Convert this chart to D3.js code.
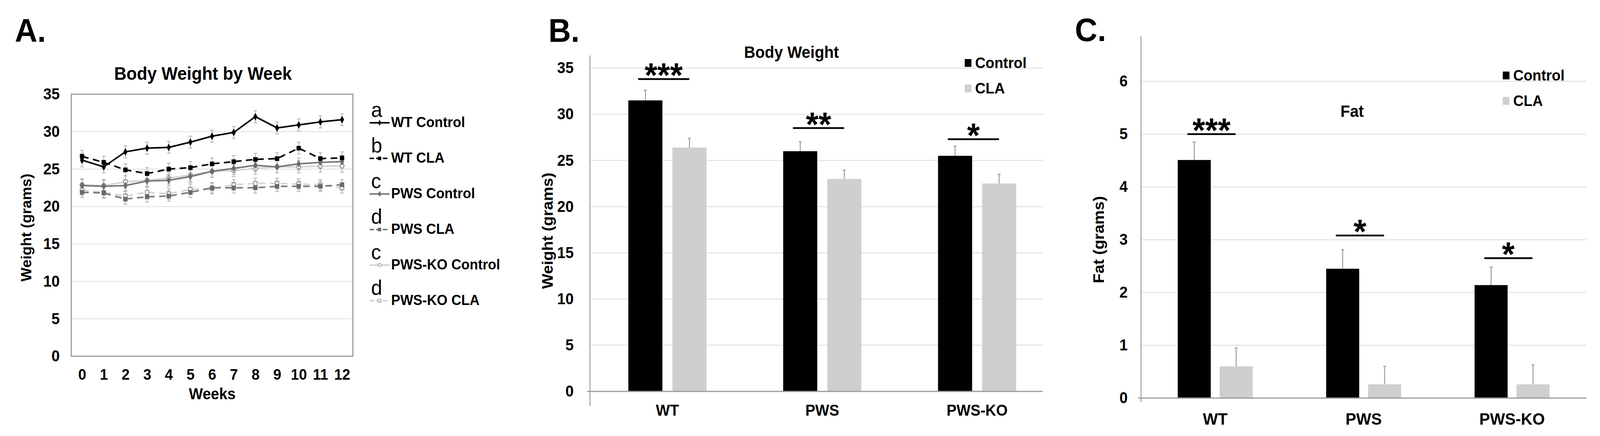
<!DOCTYPE html>
<html>
<head>
<meta charset="utf-8">
<script src="https://cdn.jsdelivr.net/npm/d3@7"></script>
<style>
  html, body { margin: 0; padding: 0; background: #fff; overflow: hidden; }
  #chart { display: block; width: 100vw; height: 100vh; }
  text { font-family: "Liberation Sans", Arial, Helvetica, sans-serif; }
</style>
</head>
<body>
<svg id="chart" viewBox="0 0 4312 1115" preserveAspectRatio="none"></svg>
<script>
// ---- Panel A data: body weight by week (grams) ----
const weeks = [0, 1, 2, 3, 4, 5, 6, 7, 8, 9, 10, 11, 12];
const wtControl    = [26.2, 25.3, 27.3, 27.8, 27.9, 28.6, 29.4, 29.9, 32.0, 30.5, 30.9, 31.3, 31.6];
const wtCLA        = [26.7, 25.9, 24.9, 24.4, 25.0, 25.2, 25.7, 26.0, 26.3, 26.4, 27.8, 26.4, 26.5];
const pwsControl   = [22.8, 22.7, 22.8, 23.4, 23.5, 24.0, 24.7, 25.1, 25.5, 25.3, 25.7, 25.9, 26.0];
const pwsCLA       = [21.9, 21.8, 21.0, 21.3, 21.4, 21.9, 22.5, 22.5, 22.5, 22.7, 22.7, 22.7, 22.9];
const pwsKoControl = [22.9, 22.8, 23.3, 23.5, 23.8, 24.2, 24.7, 24.8, 25.1, 25.3, 25.3, 25.4, 25.4];
const pwsKoCLA     = [22.2, 21.9, 21.4, 21.9, 21.7, 22.3, 22.4, 22.9, 23.1, 23.1, 23.0, 22.9, 22.5];
const wtControlErr    = [0.9, 0.8, 0.8, 0.8, 0.8, 0.8, 0.8, 0.8, 0.8, 0.8, 0.8, 0.8, 0.8];
const wtCLAErr        = [0.8, 0.8, 0.8, 0.8, 0.8, 0.8, 0.8, 0.8, 0.8, 0.8, 0.8, 0.8, 0.8];
const pwsControlErr   = [0.8, 0.8, 0.8, 0.8, 0.8, 0.8, 0.8, 0.8, 0.8, 0.8, 0.8, 0.8, 0.8];
const pwsCLAErr       = [0.7, 0.7, 0.7, 0.7, 0.7, 0.7, 0.7, 0.7, 0.7, 0.7, 0.7, 0.7, 0.7];
const pwsKoControlErr = [0.8, 0.8, 0.8, 0.8, 0.8, 0.8, 0.8, 0.8, 0.8, 0.8, 0.8, 0.8, 0.8];
const pwsKoCLAErr     = [0.7, 0.7, 0.7, 0.7, 0.7, 0.7, 0.7, 0.7, 0.7, 0.7, 0.7, 0.7, 0.7];
const seriesNames   = ["WT Control", "WT CLA", "PWS Control", "PWS CLA", "PWS-KO Control", "PWS-KO CLA"];
const seriesLetters = ["a", "b", "c", "d", "c", "d"];
const weightTicks = [0, 5, 10, 15, 20, 25, 30, 35];

// ---- Panels B and C data ----
const groups = ["WT", "PWS", "PWS-KO"];
const treatments = ["Control", "CLA"];
const bodyControl    = [31.5, 26.0, 25.5];
const bodyCLA        = [26.4, 23.0, 22.5];
const bodyControlErr = [1.1, 1.0, 1.05];
const bodyCLAErr     = [1.0, 0.95, 1.0];
const bodySig        = ["***", "**", "*"];
const bodySigLevel   = [33.8, 28.5, 27.3];
const fatControl     = [4.51, 2.45, 2.14];
const fatCLA         = [0.60, 0.26, 0.26];
const fatControlErr  = [0.34, 0.36, 0.34];
const fatCLAErr      = [0.35, 0.34, 0.37];
const fatSig         = ["***", "*", "*"];
const fatSigLevel    = [5.0, 3.08, 2.65];
const fatTicks = [0, 1, 2, 3, 4, 5, 6];

const svg = d3.select("#chart");
const FONT = '"Liberation Sans", Arial, Helvetica, sans-serif';

function panelLetter(txt, x, y) {
  svg.append("text").attr("x", x).attr("y", y)
    .attr("font-size", 84).attr("font-weight", "bold").text(txt);
}
function rotLabel(g, txt, x, y, size) {
  g.append("text")
    .attr("transform", `translate(${x},${y}) rotate(-90)`)
    .attr("text-anchor", "middle").attr("dominant-baseline", "central")
    .attr("font-size", size).attr("font-weight", "bold").text(txt);
}

// ================= Panel A =================
panelLetter("A.", 40, 107);
const gA = svg.append("g");
const xA = d3.scalePoint().domain(weeks).range([192, 951]).padding(0.5);
const yA = d3.scaleLinear().domain([0, 35]).range([911, 241]);

gA.append("g").selectAll("line")
  .data(weightTicks.filter((t) => t > 0 && t < 35))
  .join("line")
  .attr("x1", 192).attr("x2", 951)
  .attr("y1", (d) => yA(d)).attr("y2", (d) => yA(d))
  .attr("stroke", "#e8e8e8").attr("stroke-width", 3);

gA.append("rect")
  .attr("x", 192).attr("y", 241).attr("width", 759).attr("height", 670)
  .attr("fill", "none").attr("stroke", "#9a9a9a").attr("stroke-width", 3);

gA.append("g").attr("transform", "translate(192,0)")
  .call(d3.axisLeft(yA).tickValues(weightTicks).tickFormat(d3.format("d")).tickSize(0).tickPadding(31))
  .call((g) => g.select(".domain").remove())
  .selectAll("text").attr("font-size", 40).attr("font-weight", "bold")
  .attr("font-family", FONT).attr("fill", "#000");

gA.append("g").attr("transform", "translate(0,911)")
  .call(d3.axisBottom(xA).tickSize(0).tickPadding(32))
  .call((g) => g.select(".domain").remove())
  .selectAll("text").attr("font-size", 39).attr("font-weight", "bold")
  .attr("font-family", FONT).attr("fill", "#000");

gA.append("text").attr("x", 572).attr("y", 1021).attr("text-anchor", "middle")
  .attr("font-size", 40).attr("font-weight", "bold").text("Weeks");
gA.append("text").attr("x", 547).attr("y", 204).attr("text-anchor", "middle")
  .attr("font-size", 46).attr("font-weight", "bold").text("Body Weight by Week");
rotLabel(gA, "Weight (grams)", 71, 582, 38);

const seriesValues = [wtControl, wtCLA, pwsControl, pwsCLA, pwsKoControl, pwsKoCLA];
const seriesErrs = [wtControlErr, wtCLAErr, pwsControlErr, pwsCLAErr, pwsKoControlErr, pwsKoCLAErr];
const seriesStyle = [
  { stroke: "#000", dash: null, sym: "diamond", fill: "#000", mstroke: "#000", w: 4 },
  { stroke: "#000", dash: "18,12", sym: "square", fill: "#000", mstroke: "#000", w: 4 },
  { stroke: "#7a7a7a", dash: null, sym: "diamond", fill: "#6a6a6a", mstroke: "#6a6a6a", w: 4 },
  { stroke: "#7a7a7a", dash: "18,12", sym: "square", fill: "#6a6a6a", mstroke: "#6a6a6a", w: 4 },
  { stroke: "#d4d4d4", dash: null, sym: "circle", fill: "#fff", mstroke: "#7a7a7a", w: 4 },
  { stroke: "#d4d4d4", dash: "18,12", sym: "square", fill: "#fff", mstroke: "#8a8a8a", w: 4 }
];
const series = seriesNames.map((name, i) => ({
  name, letter: seriesLetters[i], style: seriesStyle[i],
  points: weeks.map((w, k) => ({ w, v: seriesValues[i][k], e: seriesErrs[i][k] }))
}));
const symbolOf = { diamond: d3.symbolDiamond, square: d3.symbolSquare, circle: d3.symbolCircle };
const symSize = { diamond: 70, square: 95, circle: 95 };

// error bars
series.forEach((s) => {
  const eg = gA.append("g").attr("stroke", "#b0b0b0").attr("stroke-width", 2);
  s.points.forEach((p) => {
    const cx = xA(p.w);
    eg.append("line").attr("x1", cx).attr("x2", cx)
      .attr("y1", yA(p.v - p.e)).attr("y2", yA(p.v + p.e));
    [p.v - p.e, p.v + p.e].forEach((v) => {
      eg.append("line").attr("x1", cx - 5).attr("x2", cx + 5)
        .attr("y1", yA(v)).attr("y2", yA(v));
    });
  });
});

const lineA = d3.line().x((d) => xA(d.w)).y((d) => yA(d.v));
// draw light series first so black sits on top
[4, 5, 2, 3, 1, 0].forEach((i) => {
  const s = series[i];
  gA.append("path").datum(s.points).attr("d", lineA)
    .attr("fill", "none").attr("stroke", s.style.stroke)
    .attr("stroke-width", s.style.w).attr("stroke-dasharray", s.style.dash);
  gA.append("g").selectAll("path").data(s.points).join("path")
    .attr("transform", (d) => `translate(${xA(d.w)},${yA(d.v)})`)
    .attr("d", d3.symbol(symbolOf[s.style.sym], symSize[s.style.sym]))
    .attr("fill", s.style.fill).attr("stroke", s.style.mstroke).attr("stroke-width", 2);
});

// legend A
const legA = gA.append("g");
series.forEach((s, i) => {
  const by = 325 + i * 91;
  legA.append("text").attr("x", 1000).attr("y", by - 26)
    .attr("font-size", 54).text(s.letter);
  legA.append("line").attr("x1", 996).attr("x2", 1050).attr("y1", by - 11).attr("y2", by - 11)
    .attr("stroke", s.style.stroke).attr("stroke-width", 4)
    .attr("stroke-dasharray", s.style.dash ? "12,6" : null);
  legA.append("path").attr("transform", `translate(1023,${by - 11})`)
    .attr("d", d3.symbol(symbolOf[s.style.sym], symSize[s.style.sym] * 0.6))
    .attr("fill", s.style.fill).attr("stroke", s.style.mstroke).attr("stroke-width", 1.5);
  legA.append("text").attr("x", 1054).attr("y", by)
    .attr("font-size", 37).attr("font-weight", "bold").text(s.name);
});

// ================= Bar panels =================
const barColor = { Control: "#000000", CLA: "#d0cece" };

function barPanel(o) {
  const g = svg.append("g");
  const x0 = d3.scaleBand().domain(groups).range(o.xRange);
  const x1 = d3.scaleBand().domain(treatments).range([0, x0.bandwidth()])
    .paddingInner(o.pi).paddingOuter(o.po);
  const y = d3.scaleLinear().domain(o.domain).range(o.yRange);
  const left = o.xRange[0];

  g.append("g").selectAll("line").data(o.ticks.filter((t) => t > 0)).join("line")
    .attr("x1", left).attr("x2", o.gridEnd)
    .attr("y1", (d) => y(d)).attr("y2", (d) => y(d))
    .attr("stroke", "#e6e6e6").attr("stroke-width", 3);

  const rows = [];
  groups.forEach((grp, i) => {
    treatments.forEach((t, j) => {
      rows.push({ grp, t, v: o.values[j][i], e: o.errs[j][i] });
    });
  });

  g.append("g").selectAll("rect").data(rows).join("rect")
    .attr("x", (d) => x0(d.grp) + x1(d.t))
    .attr("y", (d) => y(d.v))
    .attr("width", x1.bandwidth())
    .attr("height", (d) => y(0) - y(d.v))
    .attr("fill", (d) => barColor[d.t]);

  const eg = g.append("g").attr("stroke", "#9a9a9a").attr("stroke-width", 2.5);
  rows.forEach((d) => {
    const cx = x0(d.grp) + x1(d.t) + x1.bandwidth() / 2;
    eg.append("line").attr("x1", cx).attr("x2", cx).attr("y1", y(d.v)).attr("y2", y(d.v + d.e));
    eg.append("line").attr("x1", cx - 4).attr("x2", cx + 4)
      .attr("y1", y(d.v + d.e)).attr("y2", y(d.v + d.e));
  });

  g.append("line").attr("x1", left - 8).attr("x2", o.gridEnd)
    .attr("y1", y(0)).attr("y2", y(0)).attr("stroke", "#9a9a9a").attr("stroke-width", 3);
  g.append("line").attr("x1", left).attr("x2", left)
    .attr("y1", o.axisTop).attr("y2", y(0) + o.axisBelow)
    .attr("stroke", "#9a9a9a").attr("stroke-width", 2.5);

  g.append("g").attr("transform", `translate(${left},0)`)
    .call(d3.axisLeft(y).tickValues(o.ticks).tickFormat(d3.format("d")).tickSize(0).tickPadding(o.tickPad))
    .call((a) => a.select(".domain").remove())
    .selectAll("text").attr("font-size", 40).attr("font-weight", "bold")
    .attr("font-family", FONT).attr("fill", "#000");

  g.append("g").attr("transform", `translate(0,${y(0)})`)
    .call(d3.axisBottom(x0).tickSize(0).tickPadding(o.catPad))
    .call((a) => a.select(".domain").remove())
    .selectAll("text").attr("font-size", o.catSize).attr("font-weight", "bold")
    .attr("font-family", FONT).attr("fill", "#000");

  // significance bars
  groups.forEach((grp, i) => {
    const cx = x0(grp) + x0.bandwidth() / 2 - 10;
    const ly = y(o.sigLevel[i]);
    g.append("line").attr("x1", cx - o.sigHalf).attr("x2", cx + o.sigHalf)
      .attr("y1", ly).attr("y2", ly).attr("stroke", "#000").attr("stroke-width", 4.5);
    g.append("text").attr("x", cx).attr("y", ly + 20).attr("text-anchor", "middle")
      .attr("font-size", 88).attr("font-weight", "bold").text(o.sig[i]);
  });

  g.append("text").attr("x", o.title[1]).attr("y", o.title[2]).attr("text-anchor", "middle")
    .attr("font-size", 42).attr("font-weight", "bold").text(o.title[0]);
  rotLabel(g, o.yLabel[0], o.yLabel[1], o.yLabel[2], 41);

  treatments.forEach((t, j) => {
    const cy = o.legend[1] + j * 65;
    g.append("rect").attr("x", o.legend[0]).attr("y", cy - 10).attr("width", 18).attr("height", 20)
      .attr("fill", barColor[t]);
    g.append("text").attr("x", o.legend[0] + 28).attr("y", cy + 13)
      .attr("font-size", 39).attr("font-weight", "bold").text(t);
  });
}

panelLetter("B.", 1478, 107);
barPanel({
  xRange: [1590, 2842], gridEnd: 2810, pi: 0.227, po: 0.87,
  domain: [0, 35], yRange: [1001, 174], ticks: weightTicks,
  values: [bodyControl, bodyCLA], errs: [bodyControlErr, bodyCLAErr],
  axisTop: 142, axisBelow: 37, tickPad: 44, catPad: 34, catSize: 40,
  sig: bodySig, sigLevel: bodySigLevel, sigHalf: 69,
  title: ["Body Weight", 2133, 148], yLabel: ["Weight (grams)", 1475, 590],
  legend: [2600, 161]
});

panelLetter("C.", 2897, 105);
barPanel({
  xRange: [3075, 4275], gridEnd: 4275, pi: 0.212, po: 0.876,
  domain: [0, 6], yRange: [1018, 208], ticks: fatTicks,
  values: [fatControl, fatCLA], errs: [fatControlErr, fatCLAErr],
  axisTop: 92, axisBelow: 10, tickPad: 36, catPad: 37, catSize: 43,
  sig: fatSig, sigLevel: fatSigLevel, sigHalf: 65,
  title: ["Fat", 3644, 299], yLabel: ["Fat (grams)", 2961, 613],
  legend: [4050, 193]
});
</script>
</body>
</html>
